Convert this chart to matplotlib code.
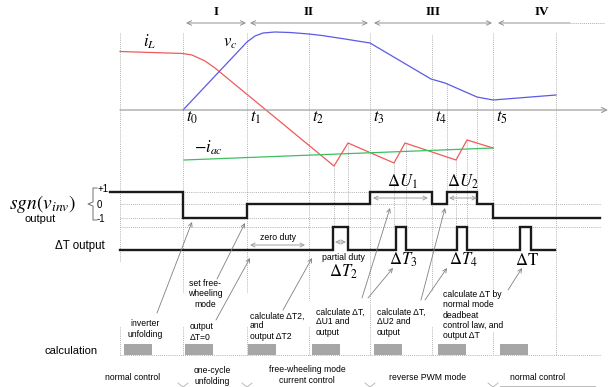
import numpy as np
import matplotlib.pyplot as plt

plt.rcParams['font.family'] = ['Liberation Sans', 'DejaVu Sans']
plt.rcParams['mathtext.fontset'] = 'stix'

# ---------- event instants (pixel time axis) ----------
t_events = [183, 247, 309, 370, 432, 493]
t_labels = [r'$t_0$', r'$t_1$', r'$t_2$', r'$t_3$', r'$t_4$', r'$t_5$']

# ---------- analog waveforms ----------
iL_x = [120, 183, 192, 205, 215, 334, 348, 394, 405, 456, 467, 493]
iL_y = [51.5, 53.5, 55, 61, 68, 166, 143, 163, 143, 160, 140, 148]
vc_x = [183, 247, 255, 263, 275, 290, 309, 322, 345, 370, 431, 445, 477, 493, 556]
vc_y = [110, 42, 36, 33, 32, 32.5, 34, 35.5, 39, 43, 79, 83, 97, 100, 95]
iac_x = [184, 493]
iac_y = [160, 148]

# ---------- digital signals ----------
sgn_x = [110, 183, 183, 247, 247, 370, 370, 432, 432, 447, 447, 477, 477, 493, 493, 600]
sgn_y = [192, 192, 218, 218, 204, 204, 192, 192, 204, 204, 192, 192, 204, 204, 218, 218]
dT_rise = [333, 396, 457, 520]
dT_fall = [348, 406, 467, 531]
dT_low, dT_high = 250, 227

# ---------- calculation slots ----------
calc_start = [124, 185, 248, 312, 374, 438, 500]
calc_width = 28

# ---------- phases ----------
phase_names = ['I', 'II', 'III', 'IV']
phase_from = [186, 250, 374, 498]
phase_to = [246, 368, 492, 570]

fig = plt.figure(figsize=(6.11, 3.87), dpi=100)
ax = fig.add_axes([0, 0, 1, 1])
ax.set_xlim(0, 611)
ax.set_ylim(387, 0)
ax.axis('off')

dot = dict(color='#9a9a9a', lw=0.6, ls=(0, (1, 1.5)))
garrow = dict(arrowstyle='->', color='#808080', lw=0.6, shrinkA=0, shrinkB=0, mutation_scale=7)
dbl = dict(arrowstyle='<->', color='#a0a0a0', lw=0.7, shrinkA=0, shrinkB=0, mutation_scale=7)

# dotted grid (vertical)
vsegs = [(120, 33, 262), (120, 327, 355), (183, 33, 292), (183, 327, 355),
         (247, 33, 292), (247, 327, 355), (309, 33, 300), (309, 327, 355),
         (370, 33, 355), (432, 35, 290), (432, 327, 355), (493, 33, 298),
         (493, 332, 355), (556, 33, 355),
         (334, 166, 227), (348, 143, 227), (394, 163, 227), (406, 143, 227),
         (447, 83, 204), (456, 160, 227), (467, 140, 227), (477, 97, 204)]
for x, y0, y1 in vsegs:
    ax.plot([x, x], [y0, y1], **dot)
# dotted grid (horizontal)
for y, x0, x1 in [(192, 120, 370), (204, 120, 600), (218, 120, 493),
                  (227, 120, 600), (355, 120, 600)]:
    ax.plot([x0, x1], [y, y], **dot)

# time axis
ax.annotate('', xy=(608, 110), xytext=(120, 110),
            arrowprops=dict(arrowstyle='->', color='#a0a0a0', lw=0.9,
                            shrinkA=0, shrinkB=0, mutation_scale=9))

# phase arrows
for name, a, b in zip(phase_names, phase_from, phase_to):
    if name == 'IV':
        ax.annotate('', xy=(a, 23), xytext=(b, 23),
                    arrowprops=dict(arrowstyle='->', color='#909090', lw=0.7,
                                    shrinkA=0, shrinkB=0, mutation_scale=8))
        ax.plot([b, 605], [23, 23], color='#b0b0b0', lw=0.7, ls=(0, (1, 1)))
        cx = 542
    else:
        ax.annotate('', xy=(b, 23), xytext=(a, 23),
                    arrowprops=dict(arrowstyle='<->', color='#909090', lw=0.7,
                                    shrinkA=0, shrinkB=0, mutation_scale=8))
        cx = (a + b) / 2
    ax.text(cx, 12, name, ha='center', va='center', fontsize=9.5,
            fontweight='bold', family='Liberation Serif')

# waveforms
ax.plot(iL_x, iL_y, color='#f05a5a', lw=0.9)
ax.plot(vc_x, vc_y, color='#5a5ae6', lw=0.9)
ax.plot(iac_x, iac_y, color='#3cc060', lw=0.9)
ax.text(150, 42, r'$i_L$', fontsize=12, ha='center', va='center')
ax.text(230, 43, r'$v_c$', fontsize=12, ha='center', va='center')
ax.text(208, 148, r'$-i_{ac}$', fontsize=12, ha='center', va='center')
for t, lab in zip(t_events, t_labels):
    ax.text(t + 3, 118, lab, fontsize=12, ha='left', va='center')

# sgn(v_inv)
ax.plot(sgn_x, sgn_y, color='#1a1a1a', lw=1.7, solid_joinstyle='miter')
ax.text(43, 204, r'$sgn(v_{inv})$', fontsize=14, ha='center', va='center')
ax.text(40, 219, 'output', fontsize=8, ha='center', va='center')
ax.plot([97, 93, 93, 88, 93, 93, 97], [188, 188, 202, 204, 206, 220, 220],
        color='#707070', lw=0.7)
ax.text(98, 189, '+1', fontsize=7, ha='left', va='center')
ax.text(97, 205, '0', fontsize=7, ha='left', va='center')
ax.text(97, 219, '-1', fontsize=7, ha='left', va='center')

# delta T output
dx, dy = [120], [dT_low]
for r, f in zip(dT_rise, dT_fall):
    dx += [r, r, f, f]
    dy += [dT_low, dT_high, dT_high, dT_low]
dx.append(555)
dy.append(dT_low)
ax.plot(dx, dy, color='#1a1a1a', lw=1.7, solid_joinstyle='miter')
ax.text(105, 246, 'ΔT output', fontsize=8.3, ha='right', va='center')

# duration markers
ax.annotate('', xy=(305, 245), xytext=(250, 245), arrowprops=dbl)
ax.text(278, 238, 'zero duty', fontsize=6.3, ha='center', va='center')
ax.annotate('', xy=(346, 242), xytext=(335, 242), arrowprops=dbl)
ax.text(343, 258, 'partial duty', fontsize=6.3, ha='center', va='center')
ax.annotate('', xy=(428, 198), xytext=(373, 198), arrowprops=dbl)
ax.annotate('', xy=(477, 198), xytext=(449, 198), arrowprops=dbl)
ax.text(402, 182, r'$\Delta U_1$', fontsize=12, ha='center', va='center')
ax.text(463, 182, r'$\Delta U_2$', fontsize=12, ha='center', va='center')
ax.text(343, 272, r'$\Delta T_2$', fontsize=12, ha='center', va='center')
ax.text(403, 260, r'$\Delta T_3$', fontsize=12, ha='center', va='center')
ax.text(463, 260, r'$\Delta T_4$', fontsize=12, ha='center', va='center')
ax.text(527, 260, r'$\Delta \mathrm{T}$', fontsize=12, ha='center', va='center')

# pointer arrows from calculation notes
for (x0, y0), (x1, y1) in [((157, 313), (192, 222)), ((217, 279), (245, 223)),
                           ((216, 320), (250, 258)), ((283, 310), (312, 258)),
                           ((362, 298), (390, 208)), ((368, 298), (393, 268)),
                           ((421, 300), (445, 208)), ((425, 300), (447, 268)),
                           ((508, 290), (522, 268))]:
    ax.annotate('', xy=(x1, y1), xytext=(x0, y0), arrowprops=garrow)

# calculation notes
fs = 6.2
ls = 1.15
ax.text(145, 329, 'inverter\nunfolding', fontsize=fs, ha='center', va='center', linespacing=ls)
ax.text(205, 294, 'set free-\nwheeling\nmode', fontsize=fs, ha='center', va='center', linespacing=ls)
ax.text(190, 332, 'output\nΔT=0', fontsize=fs, ha='left', va='center', linespacing=ls)
ax.text(250, 326, 'calculate ΔT2,\nand\noutput ΔT2', fontsize=fs, ha='left', va='center', linespacing=ls)
ax.text(316, 322, 'calculate ΔT,\nΔU1 and\noutput', fontsize=fs, ha='left', va='center', linespacing=ls)
ax.text(377, 322, 'calculate ΔT,\nΔU2 and\noutput', fontsize=fs, ha='left', va='center', linespacing=ls)
ax.text(443, 315, 'calculate ΔT by\nnormal mode\ndeadbeat\ncontrol law, and\noutput ΔT',
        fontsize=fs, ha='left', va='center', linespacing=ls)

# calculation slots
ax.text(98, 351, 'calculation', fontsize=8, ha='right', va='center')
for s in calc_start:
    ax.add_patch(plt.Rectangle((s, 344), calc_width, 11, color='#a6a6a6', lw=0))

# operating modes
ax.text(133, 378, 'normal control', fontsize=fs, ha='center', va='center')
ax.text(212, 376, 'one-cycle\nunfolding', fontsize=fs, ha='center', va='center', linespacing=ls)
ax.text(307, 375, 'free-wheeling mode\ncurrent control', fontsize=fs, ha='center', va='center', linespacing=ls)
ax.text(428, 378, 'reverse PWM mode', fontsize=fs, ha='center', va='center')
ax.text(538, 378, 'normal control', fontsize=fs, ha='center', va='center')
for x in [183, 247, 370, 493]:
    ax.plot([x - 5, x, x + 5], [383, 387, 383], color='#b0b0b0', lw=0.6)
ax.plot([500, 595], [386, 386], color='#b0b0b0', lw=0.6)

fig.savefig('out.png', dpi=100)
